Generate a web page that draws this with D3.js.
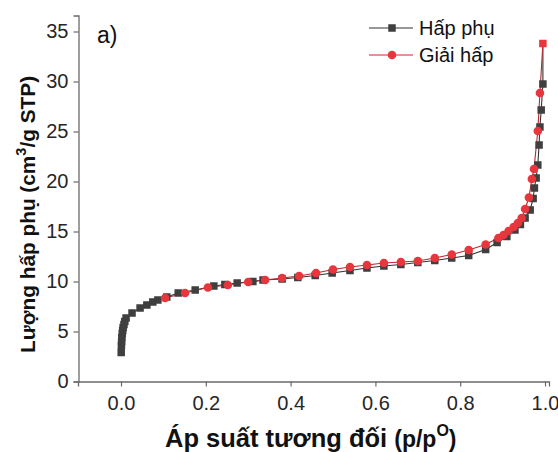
<!DOCTYPE html>
<html><head><meta charset="utf-8">
<script src="https://cdn.jsdelivr.net/npm/d3@7"></script>
<style>
html,body{margin:0;padding:0;background:#fff;}
svg{display:block;font-family:"Liberation Sans",Arial,sans-serif;}
</style></head>
<body><svg id="c" width="558" height="452"></svg>
<script>
// Adsorption branch (p/p0, volume)
const adsP = [0.0005,0.001,0.0015,0.002,0.003,0.004,0.005,0.007,0.009,0.012,0.026,0.045,0.061,0.075,0.087,0.108,0.135,0.175,0.219,0.245,0.274,0.311,0.335,0.38,0.417,0.458,0.498,0.54,0.58,0.62,0.66,0.70,0.74,0.78,0.82,0.86,0.887,0.91,0.929,0.942,0.953,0.965,0.972,0.975,0.979,0.983,0.986,0.988,0.991,0.995,0.995];
const adsV = [2.9,3.6,4.0,4.4,4.8,5.1,5.4,5.7,6.0,6.35,6.85,7.35,7.65,7.95,8.15,8.45,8.85,9.15,9.55,9.7,9.85,10.0,10.15,10.25,10.4,10.6,10.85,11.1,11.35,11.55,11.7,11.9,12.1,12.35,12.6,13.2,13.9,14.5,15.15,15.7,16.35,17.15,18.3,19.35,20.35,21.65,23.65,25.45,27.15,29.75,33.8];
// Desorption branch
const desP = [0.995,0.988,0.983,0.974,0.969,0.962,0.953,0.945,0.936,0.926,0.914,0.902,0.89,0.86,0.82,0.78,0.74,0.70,0.66,0.62,0.58,0.54,0.50,0.46,0.42,0.38,0.34,0.30,0.252,0.205,0.151,0.104];
const desV = [33.8,28.85,25.05,21.25,20.25,18.4,17.25,16.35,15.85,15.45,15.05,14.65,14.35,13.7,13.15,12.7,12.35,12.05,11.95,11.85,11.65,11.45,11.2,10.85,10.55,10.35,10.15,9.95,9.65,9.4,8.85,8.35];
const xTicks = [0.0,0.2,0.4,0.6,0.8,1.0];
const yTicks = [0,5,10,15,20,25,30,35];
const seriesNames = ["Hấp phụ","Giải hấp"];

const svg = d3.select("#c");
const x = d3.scaleLinear().domain([-0.1014,1.0094]).range([78,549]);
const y = d3.scaleLinear().domain([0,36.6]).range([381.5,15.5]);
const gray="#3f3f3f", red="#e8363d";

const xa = svg.append("g").attr("transform","translate(0,381.5)")
  .call(d3.axisBottom(x).tickValues(xTicks).tickFormat(d3.format(".1f")).tickSizeOuter(0).tickSize(5).tickPadding(9));
const ya = svg.append("g").attr("transform","translate(78.5,0)")
  .call(d3.axisLeft(y).tickValues(yTicks).tickSizeOuter(0).tickSize(5).tickPadding(5));
[xa,ya].forEach(a=>{
  a.select(".domain").attr("stroke","#6a6a6a").attr("stroke-width",1.3);
  a.selectAll(".tick line").attr("stroke","#6a6a6a").attr("stroke-width",1.2);
  a.selectAll(".tick text").attr("font-size",20).attr("fill","#262626").attr("font-family","Liberation Sans, Arial, sans-serif");
});

const ads = adsP.map((p,i)=>[p,adsV[i]]);
const des = desP.map((p,i)=>[p,desV[i]]);
const line = d3.line().x(d=>x(d[0])).y(d=>y(d[1]));
svg.append("path").attr("d",line(ads)).attr("fill","none").attr("stroke","#333").attr("stroke-width",1.1);
svg.append("path").attr("d",line(des)).attr("fill","none").attr("stroke","#b8282e").attr("stroke-width",1.1);
const s=7.5;
svg.append("g").selectAll("rect").data(ads.slice(0,-1)).join("rect")
  .attr("x",d=>x(d[0])-s/2).attr("y",d=>y(d[1])-s/2).attr("width",s).attr("height",s).attr("fill",gray);
svg.append("g").selectAll("circle").data(des.slice(1)).join("circle")
  .attr("cx",d=>x(d[0])).attr("cy",d=>y(d[1])).attr("r",4.3).attr("fill",red);
// shared end point
const top1 = des[0];
svg.append("rect").attr("x",x(top1[0])-s/2).attr("y",y(top1[1])-s/2).attr("width",s).attr("height",s).attr("fill",red);

// Legend
const lg = svg.append("g");
[[28,gray,"sq"],[55,red,"ci"]].forEach((r,i)=>{
  lg.append("line").attr("x1",369).attr("x2",413).attr("y1",r[0]).attr("y2",r[0]).attr("stroke",i?"#c8282e":"#333").attr("stroke-width",1.2);
  if(r[2]==="sq") lg.append("rect").attr("x",392-s/2).attr("y",r[0]-s/2).attr("width",s).attr("height",s).attr("fill",gray);
  else lg.append("circle").attr("cx",392).attr("cy",r[0]).attr("r",4.3).attr("fill",red);
  lg.append("text").attr("x",419).attr("y",r[0]+7).attr("font-size",20).attr("fill","#111").text(seriesNames[i]);
});

svg.append("text").attr("x",97).attr("y",43).attr("font-size",23).attr("fill","#111").text("a)");

// Axis titles
const xt = svg.append("text").attr("x",165).attr("y",447).attr("font-size",25.5).attr("font-weight","bold").attr("fill","#111");
xt.append("tspan").text("Áp suất tương đối ");
xt.append("tspan").attr("font-size",23).text("(p/p");
xt.append("tspan").attr("font-size",16).attr("dy",-11).text("O");
xt.append("tspan").attr("font-size",23).attr("dy",11).text(")");

const yt = svg.append("text").attr("transform","translate(35,353) rotate(-90)").attr("font-size",20.8).attr("font-weight","bold").attr("fill","#111");
yt.append("tspan").text("Lượng hấp phụ (cm");
yt.append("tspan").attr("font-size",14.5).attr("dy",-9).text("3");
yt.append("tspan").attr("dy",9).text("/g STP)");
</script></body></html>
